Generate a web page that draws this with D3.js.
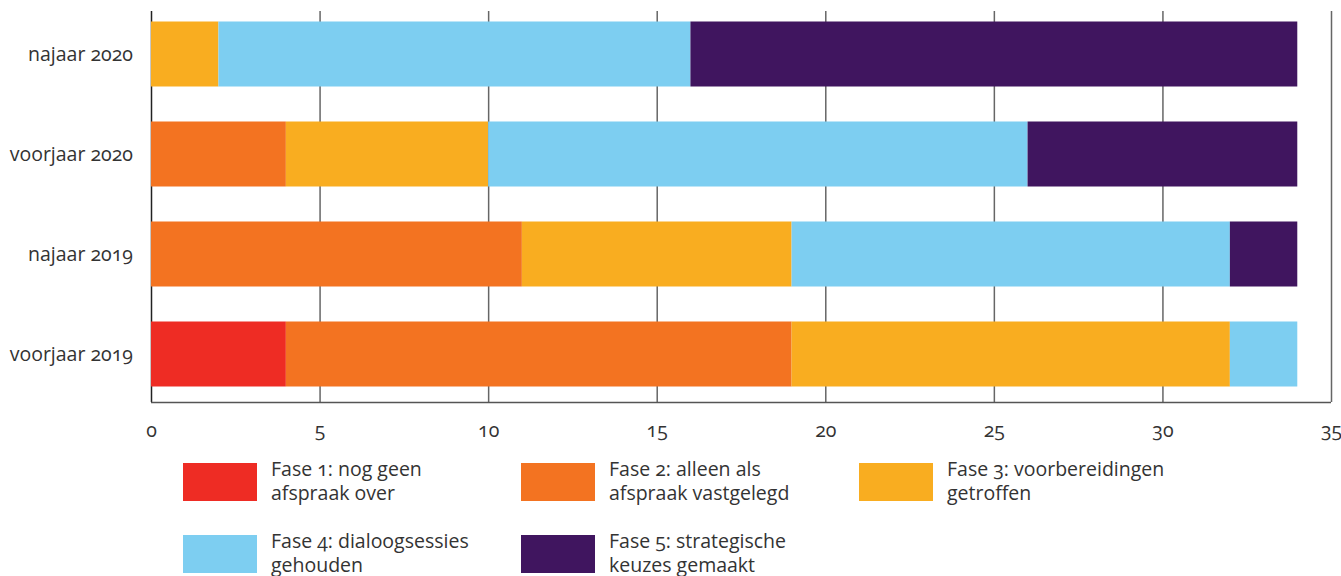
<!DOCTYPE html>
<html><head><meta charset="utf-8">
<script src="https://cdn.jsdelivr.net/npm/d3@7"></script>
<style>
body{margin:0;background:#fff;}
svg text{font-family:"Open Sans","Noto Sans",sans-serif;fill:#333;font-feature-settings:"onum";}
</style></head><body>
<svg id="c" width="1341" height="576"></svg>
<script>
const categories = ["najaar 2020","voorjaar 2020","najaar 2019","voorjaar 2019"];
const seriesNames = ["Fase 1: nog geen afspraak over","Fase 2: alleen als afspraak vastgelegd","Fase 3: voorbereidingen getroffen","Fase 4: dialoogsessies gehouden","Fase 5: strategische keuzes gemaakt"];
const legendLines = [["Fase 1: nog geen","afspraak over"],["Fase 2: alleen als","afspraak vastgelegd"],["Fase 3: voorbereidingen","getroffen"],["Fase 4: dialoogsessies","gehouden"],["Fase 5: strategische","keuzes gemaakt"]];
const fase1 = [0,0,0,4];
const fase2 = [0,4,11,15];
const fase3 = [2,6,8,13];
const fase4 = [14,16,13,2];
const fase5 = [18,8,2,0];
const xTicks = [0,5,10,15,20,25,30,35];
const colors = ["#ee2c24","#f37321","#f9ad20","#7dcef1","#40155f"];

const svg = d3.select("#c");
const x = d3.scaleLinear().domain([0,35]).range([151,1331]);
const y = d3.scaleBand().domain(categories).range([4,404]).paddingInner(0.35).paddingOuter(0.175);

const rows = categories.map((c,i)=>({cat:c,f:[fase1[i],fase2[i],fase3[i],fase4[i],fase5[i]]}));
const keys = [0,1,2,3,4];
const stack = d3.stack().keys(keys).value((d,k)=>d.f[k])(rows);

// gridlines
const grid = svg.append("g");
grid.selectAll("line").data(xTicks).join("line")
  .attr("x1",d=>x(d)+0.5).attr("x2",d=>x(d)+0.5)
  .attr("y1",11).attr("y2",402)
  .attr("stroke",d=>d===0?"#222":"#666").attr("stroke-width",1.5);

// bars
svg.append("g").selectAll("g").data(stack).join("g")
  .attr("fill",(d,i)=>colors[i])
  .selectAll("rect").data(d=>d).join("rect")
  .attr("x",d=>x(d[0])).attr("width",d=>x(d[1])-x(d[0]))
  .attr("y",d=>y(d.data.cat)).attr("height",y.bandwidth());

// bottom axis line
svg.append("line").attr("x1",151).attr("x2",1331).attr("y1",402.5).attr("y2",402.5).attr("stroke","#555").attr("stroke-width",1.5);

// x axis labels
const xa = svg.append("g").attr("transform","translate(0,402)")
  .call(d3.axisBottom(x).tickValues(xTicks).tickSize(0).tickPadding(21));
xa.select(".domain").remove();
xa.selectAll("text").attr("font-size",19.5).style("fill","#333").attr("font-family",null);

// y labels
svg.append("g").selectAll("text").data(categories).join("text")
  .attr("x",133).attr("y",d=>y(d)+y.bandwidth()/2).attr("dy","0.35em")
  .attr("text-anchor","end").attr("font-size",19.5).text(d=>d);

// legend
const legX = [183,521,859];
const legend = svg.append("g");
seriesNames.forEach((s,i)=>{
  const col=i%3, row=Math.floor(i/3);
  const gx=legX[col], gy=463+row*72;
  legend.append("rect").attr("x",gx).attr("y",gy).attr("width",74).attr("height",38).attr("fill",colors[i]);
  const t=legend.append("text").attr("x",gx+88).attr("y",gy+13).attr("font-size",19.5);
  legendLines[i].forEach((l,j)=>t.append("tspan").attr("x",gx+88).attr("dy",j===0?0:24).text(l));
});
</script></body></html>
